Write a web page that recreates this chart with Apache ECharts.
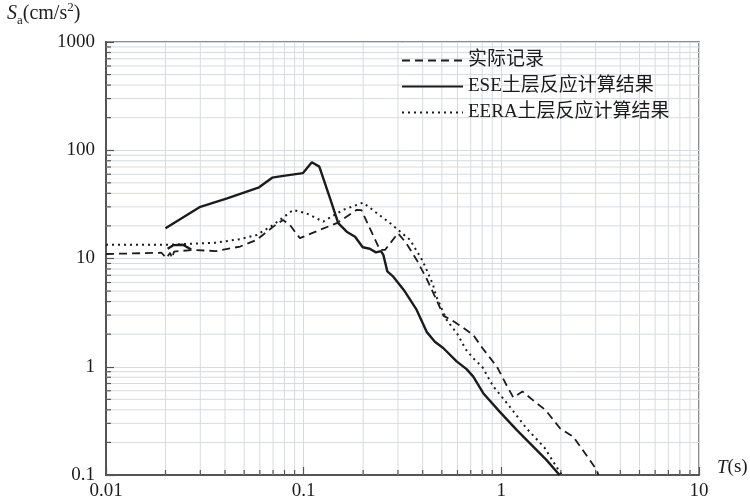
<!DOCTYPE html>
<html><head><meta charset="utf-8">
<script src="https://cdn.jsdelivr.net/npm/echarts@6/dist/echarts.min.js"></script>
<style>html,body{margin:0;padding:0;background:#fff}#c{width:750px;height:503px}</style>
</head><body><div id="c"></div>
<script>
// ---- data ----
const seriesNames = ['实际记录', 'ESE土层反应计算结果', 'EERA土层反应计算结果'];

const recordT  = [0.01, 0.0191, 0.0202, 0.0211, 0.0216, 0.0221, 0.0277, 0.036, 0.0477, 0.058, 0.0702, 0.0786, 0.0852, 0.0957, 0.121, 0.147, 0.185, 0.196, 0.243, 0.258, 0.30, 0.33, 0.373, 0.419, 0.47, 0.51, 0.56, 0.63, 0.72, 0.80, 0.95, 1.07, 1.15, 1.28, 1.51, 1.67, 1.98, 2.31, 2.65, 3.03, 3.1];
const recordSa = [11.0, 11.3, 10.1, 11.3, 10.1, 11.6, 12.0, 11.7, 12.9, 14.9, 19.7, 22.7, 20.4, 15.4, 18.4, 21.2, 28.1, 28.0, 12.0, 12.0, 17.1, 13.9, 9.7, 6.5, 4.15, 2.95, 2.7, 2.35, 1.97, 1.5, 1.0, 0.66, 0.52, 0.59, 0.46, 0.40, 0.27, 0.226, 0.159, 0.112, 0.1];

const eseT  = [0.02, 0.03, 0.041, 0.0595, 0.0693, 0.079, 0.099, 0.11, 0.12, 0.136, 0.1496, 0.165, 0.182, 0.199, 0.216, 0.232, 0.246, 0.253, 0.265, 0.284, 0.321, 0.373, 0.419, 0.461, 0.508, 0.594, 0.667, 0.721, 0.81, 0.98, 1.195, 1.45, 1.69, 1.97];
const eseSa = [19.0, 30, 36, 45.5, 55.8, 58, 61.4, 77.4, 70.6, 36, 21.2, 17.7, 15.9, 12.7, 12.3, 11.4, 11.7, 10.8, 7.6, 6.8, 5.13, 3.35, 2.1, 1.7, 1.49, 1.12, 0.95, 0.81, 0.57, 0.385, 0.261, 0.183, 0.138, 0.1];
const eseHumpT  = [0.0205, 0.022, 0.0245, 0.027];
const eseHumpSa = [12.3, 13.3, 13.4, 12.1];

const eeraT  = [0.01, 0.02, 0.036, 0.0477, 0.058, 0.070, 0.0886, 0.103, 0.1256, 0.158, 0.20, 0.243, 0.273, 0.30, 0.345, 0.40, 0.45, 0.47, 0.53, 0.60, 0.66, 0.72, 0.80, 0.91, 1.1, 1.34, 1.65, 1.94, 2.02];
const eeraSa = [13.4, 13.4, 14.0, 15.1, 16.5, 20.4, 28.1, 26.2, 21.9, 28.1, 32.8, 25.0, 21.3, 18.4, 14.9, 9.5, 5.8, 4.4, 2.7, 2.0, 1.45, 1.2, 1.0, 0.66, 0.43, 0.27, 0.18, 0.112, 0.1];

const xMin = 0.01, xMax = 10, yMin = 0.1, yMax = 1000;
const xMinorTicks = [0.02,0.03,0.04,0.05,0.06,0.07,0.08,0.09, 0.2,0.3,0.4,0.5,0.6,0.7,0.8,0.9, 2,3,4,5,6,7,8,9];
const yMinorTicks = [0.2,0.3,0.4,0.5,0.6,0.7,0.8,0.9, 2,3,4,5,6,7,8,9, 20,30,40,50,60,70,80,90, 200,300,400,500,600,700,800,900];

// ---- chart ----
const zip = (a, b) => a.map((v, i) => [v, b[i]]);
const serif = '"Liberation Serif", "Noto Sans CJK SC", serif';
const ink = '#1c1c1c';
const gridColor = '#d7dbdf';

function minorX(params, api) {
  const v = api.value(0);
  const b = api.coord([v, yMin]), t = api.coord([v, yMax]);
  return { type: 'group', children: [
    { type: 'line', shape: { x1: b[0], y1: b[1], x2: t[0], y2: t[1] }, style: { stroke: gridColor, lineWidth: 1 } },
    { type: 'line', shape: { x1: b[0], y1: b[1], x2: b[0], y2: b[1] - 5 }, style: { stroke: '#555', lineWidth: 1.2 } }
  ]};
}
function minorY(params, api) {
  const v = api.value(1);
  const l = api.coord([xMin, v]), r = api.coord([xMax, v]);
  return { type: 'group', children: [
    { type: 'line', shape: { x1: l[0], y1: l[1], x2: r[0], y2: r[1] }, style: { stroke: gridColor, lineWidth: 1 } },
    { type: 'line', shape: { x1: l[0], y1: l[1], x2: l[0] + 5, y2: l[1] }, style: { stroke: '#555', lineWidth: 1.2 } }
  ]};
}
const fmt = v => String(Number(Number(v).toPrecision(4)));

const chart = echarts.init(document.getElementById('c'), null, { renderer: 'canvas' });
chart.setOption({
  animation: false,
  backgroundColor: '#fff',
  grid: { left: 106, right: 51, top: 42, bottom: 28, show: true, borderColor: '#666', borderWidth: 1.5 },
  xAxis: {
    type: 'log', logBase: 10, min: xMin, max: xMax,
    axisLine: { show: true, lineStyle: { color: '#555', width: 2 } },
    axisTick: { show: true, inside: true, length: 8, lineStyle: { color: '#555', width: 1.2 } },
    splitLine: { show: true, lineStyle: { color: gridColor, width: 1 } },
    axisLabel: { formatter: fmt, color: ink, fontFamily: serif, fontSize: 19, margin: 7 }
  },
  yAxis: {
    type: 'log', logBase: 10, min: yMin, max: yMax,
    axisLine: { show: true, lineStyle: { color: '#555', width: 2 } },
    axisTick: { show: true, inside: true, length: 8, lineStyle: { color: '#555', width: 1.2 } },
    splitLine: { show: true, lineStyle: { color: gridColor, width: 1 } },
    axisLabel: { formatter: fmt, color: ink, fontFamily: serif, fontSize: 19, margin: 11 }
  },
  legend: {
    orient: 'vertical', left: 396, top: 46, itemWidth: 61, itemHeight: 14, itemGap: 7,
    data: seriesNames,
    itemStyle: { opacity: 0 },
    textStyle: { fontFamily: serif, fontSize: 19, color: ink }
  },
  graphic: [
    { type: 'text', left: 7, top: 1, style: {
      text: '{s|S}{a|a}{n|(cm/s}{p|2}{n|)}',
      rich: {
        s: { fontFamily: serif, fontStyle: 'italic', fontSize: 20, fill: ink, lineHeight: 26, verticalAlign: 'middle' },
        a: { fontFamily: serif, fontSize: 13, fill: ink, lineHeight: 26, verticalAlign: 'bottom' },
        n: { fontFamily: serif, fontSize: 20, fill: ink, lineHeight: 26, verticalAlign: 'middle' },
        p: { fontFamily: serif, fontSize: 13, fill: ink, lineHeight: 26, verticalAlign: 'top' }
      }
    }},
    { type: 'text', left: 717, top: 458, style: {
      text: '{t|T}{n|(s)}',
      rich: {
        t: { fontFamily: serif, fontStyle: 'italic', fontSize: 19, fill: ink },
        n: { fontFamily: serif, fontSize: 19, fill: ink }
      }
    }}
  ],
  series: [
    { type: 'custom', name: 'minorX', coordinateSystem: 'cartesian2d', renderItem: minorX, silent: true, z: 1,
      data: xMinorTicks.map(v => [v, yMin]), encode: { x: 0, y: 1 } },
    { type: 'custom', name: 'minorY', coordinateSystem: 'cartesian2d', renderItem: minorY, silent: true, z: 1,
      data: yMinorTicks.map(v => [xMin, v]), encode: { x: 0, y: 1 } },
    { type: 'line', name: seriesNames[0], data: zip(recordT, recordSa), symbol: 'none', showSymbol: false, z: 5,
      lineStyle: { color: ink, width: 1.8, type: [8, 5], opacity: 1 }, itemStyle: { color: ink } },
    { type: 'line', name: seriesNames[1], data: zip(eseT, eseSa), symbol: 'none', showSymbol: false, z: 5,
      lineStyle: { color: ink, width: 2.4, type: 'solid', opacity: 1 }, itemStyle: { color: ink } },
    { type: 'line', name: seriesNames[2], data: zip(eeraT, eeraSa), symbol: 'none', showSymbol: false, z: 5,
      lineStyle: { color: ink, width: 2, type: [2, 4], opacity: 1 }, itemStyle: { color: ink } },
    { type: 'line', name: seriesNames[1], data: zip(eseHumpT, eseHumpSa), symbol: 'none', showSymbol: false, z: 5,
      lineStyle: { color: ink, width: 2.4, type: 'solid' }, itemStyle: { color: ink } }
  ]
});
</script></body></html>
